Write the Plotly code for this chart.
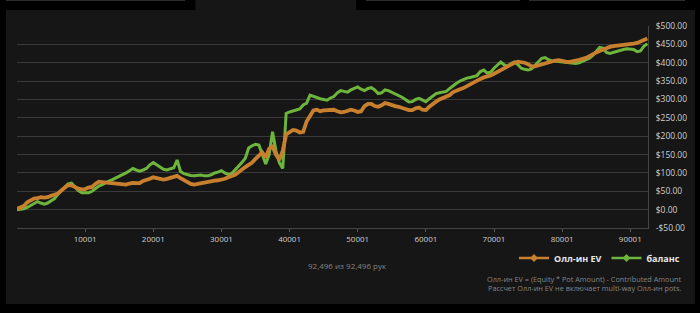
import plotly.graph_objects as go

# ---------------- data ----------------
hands = list(range(0, 92001, 500)) + [92496]

allin_ev = [2, 5, 10, 20, 25, 30, 31, 34, 33, 34,
            38, 42, 44, 52, 60, 67, 66, 60, 57, 55,
            56, 60, 62, 70, 76, 75, 74, 72, 72, 71,
            68, 67, 68, 71, 73, 72, 72, 78, 80, 84,
            88, 86, 82, 82, 84, 86, 90, 92, 86, 80,
            74, 70, 68, 70, 72, 75, 76, 77, 79, 80,
            81, 84, 88, 91, 95, 102, 110, 116, 122, 128,
            138, 148, 156, 142, 166, 172, 150, 136, 160, 205,
            212, 217, 215, 210, 212, 240, 255, 270, 272, 268,
            270, 271, 272, 272, 268, 265, 266, 270, 272, 270,
            266, 268, 282, 288, 288, 282, 280, 284, 290, 288,
            284, 282, 280, 276, 274, 271, 271, 276, 278, 272,
            271, 280, 288, 294, 300, 304, 307, 312, 320, 325,
            328, 331, 336, 342, 348, 352, 356, 360, 362, 365,
            370, 375, 380, 386, 390, 396, 400, 403, 402, 400,
            396, 390, 390, 393, 396, 399, 402, 404, 406, 407,
            404, 403, 402, 403, 406, 408, 410, 413, 418, 424,
            428, 432, 436, 440, 443, 445, 446, 446, 447, 448,
            450, 452, 454, 458, 461,
            466]

balance = [0, 0, 2, 6, 12, 18, 22, 18, 15, 18,
           25, 30, 42, 52, 62, 70, 72, 62, 52, 46,
           45, 46, 50, 58, 64, 68, 74, 78, 82, 86,
           92, 96, 100, 106, 112, 108, 105, 108, 112, 122,
           128, 122, 115, 110, 108, 112, 114, 135, 104, 98,
           95, 93, 92, 93, 94, 92, 92, 95, 100, 102,
           106, 100, 96, 98, 108, 115, 128, 140, 168, 174,
           178, 176, 150, 124, 150, 212, 160, 128, 112, 262,
           266, 268, 270, 274, 285, 290, 312, 308, 305, 302,
           300, 298, 304, 308, 318, 324, 322, 320, 326, 330,
           334, 328, 324, 330, 332, 326, 316, 318, 326, 324,
           320, 316, 312, 306, 300, 293, 294, 300, 303, 298,
           294, 302, 310, 316, 318, 320, 322, 330, 338, 344,
           350, 355, 358, 360, 362, 365, 376, 380, 372, 374,
           385, 394, 402, 394, 390, 398, 402, 395, 385, 382,
           380, 383, 392, 402, 412, 414, 408, 405, 404, 403,
           402, 401, 400, 399, 398, 400, 404, 408, 412, 420,
           432, 442, 440, 428, 425, 428, 432, 434, 436, 438,
           438, 436, 430, 432, 445,
           452]

x_tickvals = [10001, 20001, 30001, 40001, 50001, 60001, 70001, 80001, 90001]
x_ticktext = ["10001", "20001", "30001", "40001", "50001", "60001", "70001", "80001", "90001"]
y_tickvals = [-50, 0, 50, 100, 150, 200, 250, 300, 350, 400, 450, 500]
y_ticktext = ["-$50.00", "$0.00", "$50.00", "$100.00", "$150.00", "$200.00", "$250.00",
              "$300.00", "$350.00", "$400.00", "$450.00", "$500.00"]

series_names = ["Олл-ин EV", "баланс"]
hands_label = "92,496 из 92,496 рук"
note_1 = "Олл-ин EV = (Equity * Pot Amount) - Contributed Amount"
note_2 = "Рассчет Олл-ин EV не включает multi-way Олл-ин pots."

# ---------------- style ----------------
ORANGE = "#c8802f"
GREEN = "#6db53c"
PANEL = "#161616"
FONT = "Open Sans"

W, H = 700, 313
ML, MR, MT, MB = 17, 52, 26, 85
PW, PH = W - ML - MR, H - MT - MB


def px(x):
    return (x - ML) / PW


def py(y):
    return (H - MB - y) / PH


fig = go.Figure()

# data traces (balance below, EV on top)
fig.add_trace(go.Scatter(x=hands, y=balance, mode="lines", showlegend=False,
                         line=dict(color=GREEN, width=3), hoverinfo="skip"))
fig.add_trace(go.Scatter(x=hands, y=allin_ev, mode="lines", showlegend=False,
                         line=dict(color=ORANGE, width=3.8), hoverinfo="skip"))
# legend entries
fig.add_trace(go.Scatter(x=[None], y=[None], mode="lines+markers", name=series_names[0],
                         line=dict(color=ORANGE, width=2.5),
                         marker=dict(symbol="diamond", size=6, color=ORANGE), legendrank=1))
fig.add_trace(go.Scatter(x=[None], y=[None], mode="lines+markers", name=series_names[1],
                         line=dict(color=GREEN, width=2.5),
                         marker=dict(symbol="diamond", size=6, color=GREEN), legendrank=2))

shapes = [
    dict(type="rect", xref="paper", yref="paper", x0=px(6), x1=px(695), y0=py(304), y1=py(10),
         fillcolor=PANEL, line=dict(width=0), layer="below"),
    dict(type="rect", xref="paper", yref="paper", x0=px(195.5), x1=px(356), y0=py(10.5), y1=py(-1),
         fillcolor=PANEL, line=dict(width=0), layer="below"),
]
for a, b in [(6, 185), (366, 520), (529, 685)]:
    shapes.append(dict(type="line", xref="paper", yref="paper", x0=px(a), x1=px(b),
                       y0=py(0.5), y1=py(0.5), line=dict(color="#2c2c2c", width=1), layer="below"))

annotations = [
    dict(text=hands_label, xref="paper", yref="paper", x=px(347.5), y=py(265),
         xanchor="center", yanchor="middle", showarrow=False,
         font=dict(family=FONT, size=8, color="#858585")),
    dict(text=note_1, xref="paper", yref="paper", x=px(683), y=py(279),
         xanchor="right", yanchor="middle", showarrow=False,
         font=dict(family=FONT, size=7.3, color="#858585")),
    dict(text=note_2, xref="paper", yref="paper", x=px(683), y=py(288),
         xanchor="right", yanchor="middle", showarrow=False,
         font=dict(family=FONT, size=7.3, color="#858585")),
]

fig.update_layout(
    width=W, height=H,
    margin=dict(l=ML, r=MR, t=MT, b=MB, pad=0),
    paper_bgcolor="#000000",
    plot_bgcolor=PANEL,
    font=dict(family=FONT, color="#cfcfcf", size=8),
    shapes=shapes,
    annotations=annotations,
    showlegend=True,
    legend=dict(orientation="h", x=px(685), xanchor="right", y=py(258), yanchor="middle",
                bgcolor="rgba(0,0,0,0)", itemwidth=30, tracegroupgap=0,
                font=dict(family=FONT, size=9, color="#e8e8e8", weight="bold")),
    xaxis=dict(range=[0, 92600], tickvals=x_tickvals, ticktext=x_ticktext,
               showgrid=False, zeroline=False, showline=True, linecolor="#444444", linewidth=1,
               ticks="outside", ticklen=3, tickcolor="#555555",
               tickfont=dict(family=FONT, size=8, color="#cfcfcf")),
    yaxis=dict(range=[-50, 500], tickvals=y_tickvals, ticktext=y_ticktext, side="right",
               showgrid=True, gridcolor="#3a3a3a", gridwidth=1, zeroline=False,
               showline=True, linecolor="#444444", linewidth=1,
               ticks="", ticklabelstandoff=5,
               tickfont=dict(family=FONT, size=8.5, color="#cfcfcf")),
)

fig.write_html("out.html")
